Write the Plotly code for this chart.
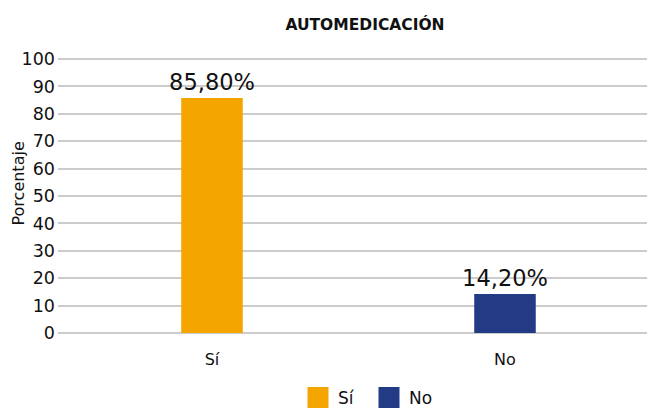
import plotly.graph_objects as go

categories = ["Sí", "No"]
values = [85.8, 14.2]
labels = ["85,80%", "14,20%"]
colors = ["#F5A500", "#233A85"]
y_ticks = list(range(0, 101, 10))

FONT = "DejaVu Sans, Verdana, sans-serif"
TXT = "#111111"

# page has an 8px body margin: figure is 647x401 so it ends at the 655x409 window edge
W, H = 647, 401

fig = go.Figure()
for cat, val, lab, col in zip(categories, values, labels, colors):
    fig.add_trace(go.Bar(
        x=[cat], y=[val], name=cat, text=[lab], textposition="outside",
        constraintext="none",
        textfont=dict(size=22.5, color=TXT, family=FONT),
        marker=dict(color=col, line=dict(width=0)),
        width=0.21, showlegend=False, cliponaxis=False,
    ))
    # legend proxy (larger square swatch)
    fig.add_trace(go.Scatter(
        x=[None], y=[None], mode="markers", name=cat,
        marker=dict(symbol="square", size=16, color=col, line=dict(width=5, color=col)),
    ))

fig.update_layout(
    width=W, height=H,
    margin=dict(l=50, r=0, t=50, b=75, autoexpand=False),
    paper_bgcolor="white", plot_bgcolor="white",
    font=dict(family=FONT, color=TXT),
    title=dict(text="<b>AUTOMEDICACIÓN</b>", x=357 / W, xref="container", xanchor="center",
               y=1 - 17 / H, yref="container", yanchor="middle",
               font=dict(size=15.5, family=FONT, color=TXT)),
    barmode="overlay",
    legend=dict(orientation="h", x=361 / W, xref="container", xanchor="center",
                y=1 - 390 / H, yref="container", yanchor="middle",
                font=dict(size=17, family=FONT, color=TXT), itemsizing="trace",
                entrywidth=26, bgcolor="rgba(0,0,0,0)"),
    xaxis=dict(type="category", categoryorder="array", categoryarray=categories,
               range=[-0.5256, 1.512], showgrid=False, zeroline=False, showline=False,
               ticks="", tickfont=dict(size=16, family=FONT, color=TXT),
               ticklabelstandoff=14, automargin=False),
    yaxis=dict(range=[-0.4, 100.4], tickvals=y_ticks, showgrid=True, gridcolor="#CCCCCC",
               gridwidth=1.5, zeroline=False, showline=False, ticks="",
               tickfont=dict(size=17.5, family=FONT, color=TXT),
               ticklabelstandoff=2, automargin=False),
    annotations=[dict(text="Porcentaje", textangle=-90, showarrow=False,
                      xref="paper", x=(18 - 58) / 597, xanchor="center",
                      yref="paper", y=(334 - 183.5) / 276, yanchor="middle",
                      font=dict(size=16, family=FONT, color=TXT))],
)

fig.write_html("out.html")
